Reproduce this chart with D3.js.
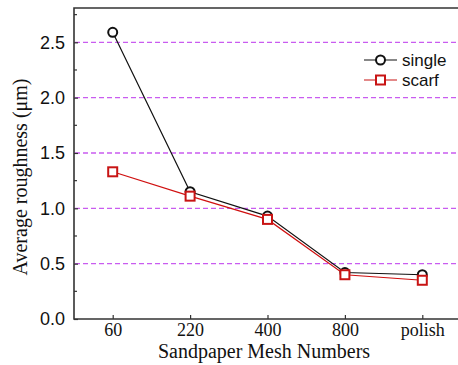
<!DOCTYPE html>
<html>
<head>
<meta charset="utf-8">
<script src="https://cdn.jsdelivr.net/npm/d3@7"></script>
<style>
  body { margin: 0; background: #fff; }
  svg { display: block; }
</style>
</head>
<body>
<div id="chart"></div>
<script>
// data
const categories = ["60", "220", "400", "800", "polish"];
const single = [2.59, 1.15, 0.93, 0.42, 0.40];
const scarf = [1.33, 1.11, 0.90, 0.40, 0.35];
const yTicks = [0.0, 0.5, 1.0, 1.5, 2.0, 2.5];
const gridValues = [0.5, 1.0, 1.5, 2.0, 2.5];
const seriesNames = ["single", "scarf"];

const width = 458, height = 365;
const margin = {top: 8, right: -3, bottom: 46, left: 74};

const svg = d3.select("#chart")
    .append("svg")
    .attr("width", width)
    .attr("height", height);

const x = d3.scalePoint()
    .domain(categories)
    .range([margin.left, width - margin.right])
    .padding(0.5);

const y = d3.scaleLinear()
    .domain([0, 2.81])
    .range([height - margin.bottom, margin.top]);

// dashed grid lines
svg.append("g")
    .selectAll("line")
    .data(gridValues)
    .enter()
    .append("line")
    .attr("x1", margin.left + 1)
    .attr("x2", width)
    .attr("y1", d => y(d))
    .attr("y2", d => y(d))
    .attr("stroke", "#c95cf0")
    .attr("stroke-width", 1.3)
    .attr("stroke-dasharray", "5,3");

// left axis (ticks inside)
const yAxis = svg.append("g")
    .attr("transform", `translate(${margin.left},0)`)
    .call(d3.axisLeft(y).tickValues(yTicks).tickFormat(d3.format(".1f")).tickSize(-4).tickPadding(9));
yAxis.select(".domain").remove();
yAxis.selectAll("line").attr("stroke", "#333").attr("stroke-width", 1.2);
yAxis.selectAll("text")
    .attr("font-family", "Liberation Sans, Arial, sans-serif")
    .attr("font-size", 18)
    .attr("fill", "#111");

// minor ticks
svg.append("g")
    .selectAll("line")
    .data(d3.range(0.25, 2.8, 0.5))
    .enter()
    .append("line")
    .attr("x1", margin.left)
    .attr("x2", margin.left + 3)
    .attr("y1", d => y(d))
    .attr("y2", d => y(d))
    .attr("stroke", "#333")
    .attr("stroke-width", 1.2);

// bottom axis
const xAxis = svg.append("g")
    .attr("transform", `translate(0,${height - margin.bottom})`)
    .call(d3.axisBottom(x).tickSize(-4).tickPadding(4));
xAxis.select(".domain").remove();
xAxis.selectAll("line").attr("stroke", "#333").attr("stroke-width", 1.2);
xAxis.selectAll("text")
    .attr("font-family", "Liberation Serif, Times New Roman, serif")
    .attr("font-size", 18)
    .attr("fill", "#111");

// frame: left, bottom, top
svg.append("path")
    .attr("d", `M${width},${margin.top}H${margin.left}V${height - margin.bottom}H${width}`)
    .attr("fill", "none")
    .attr("stroke", "#333")
    .attr("stroke-width", 1.6);

// lines
const line = d3.line()
    .x((d, i) => x(categories[i]))
    .y(d => y(d));

svg.append("path")
    .datum(single)
    .attr("d", line)
    .attr("fill", "none")
    .attr("stroke", "#111")
    .attr("stroke-width", 1.2);

svg.append("path")
    .datum(scarf)
    .attr("d", line)
    .attr("fill", "none")
    .attr("stroke", "#d01010")
    .attr("stroke-width", 1.2);

// markers
svg.selectAll(".dot-single")
    .data(single)
    .enter()
    .append("circle")
    .attr("class", "dot-single")
    .attr("cx", (d, i) => x(categories[i]))
    .attr("cy", d => y(d))
    .attr("r", 4.5)
    .attr("fill", "#fff")
    .attr("stroke", "#111")
    .attr("stroke-width", 2);

svg.selectAll(".dot-scarf")
    .data(scarf)
    .enter()
    .append("rect")
    .attr("class", "dot-scarf")
    .attr("x", (d, i) => x(categories[i]) - 4.5)
    .attr("y", d => y(d) - 4.5)
    .attr("width", 9)
    .attr("height", 9)
    .attr("fill", "#fff")
    .attr("stroke", "#c81414")
    .attr("stroke-width", 2);

// legend
const legend = svg.append("g").attr("transform", "translate(364,60)");
seriesNames.forEach((name, i) => {
    const g = legend.append("g").attr("transform", `translate(0,${i * 20})`);
    const col = i === 0 ? "#111" : "#c81414";
    g.append("line").attr("x1", 0).attr("x2", 33).attr("y1", 0).attr("y2", 0)
        .attr("stroke", col).attr("stroke-width", 1.2);
    if (i === 0) {
        g.append("circle").attr("cx", 16.5).attr("cy", 0).attr("r", 4.5)
            .attr("fill", "#fff").attr("stroke", col).attr("stroke-width", 2);
    } else {
        g.append("rect").attr("x", 12).attr("y", -4.5).attr("width", 9).attr("height", 9)
            .attr("fill", "#fff").attr("stroke", col).attr("stroke-width", 2);
    }
    g.append("text")
        .attr("x", 38)
        .attr("y", 0)
        .attr("dy", "0.35em")
        .attr("font-family", "Liberation Sans, Arial, sans-serif")
        .attr("font-size", 17)
        .attr("fill", "#111")
        .text(name);
});

// axis titles
svg.append("text")
    .attr("x", 264)
    .attr("y", 358)
    .attr("text-anchor", "middle")
    .attr("font-family", "Liberation Serif, Times New Roman, serif")
    .attr("font-size", 20)
    .attr("fill", "#111")
    .text("Sandpaper Mesh Numbers");

svg.append("text")
    .attr("transform", "translate(27,177) rotate(-90)")
    .attr("text-anchor", "middle")
    .attr("font-family", "Liberation Serif, Times New Roman, serif")
    .attr("font-size", 20)
    .attr("fill", "#111")
    .text("Average roughness (μm)");
</script>
</body>
</html>
